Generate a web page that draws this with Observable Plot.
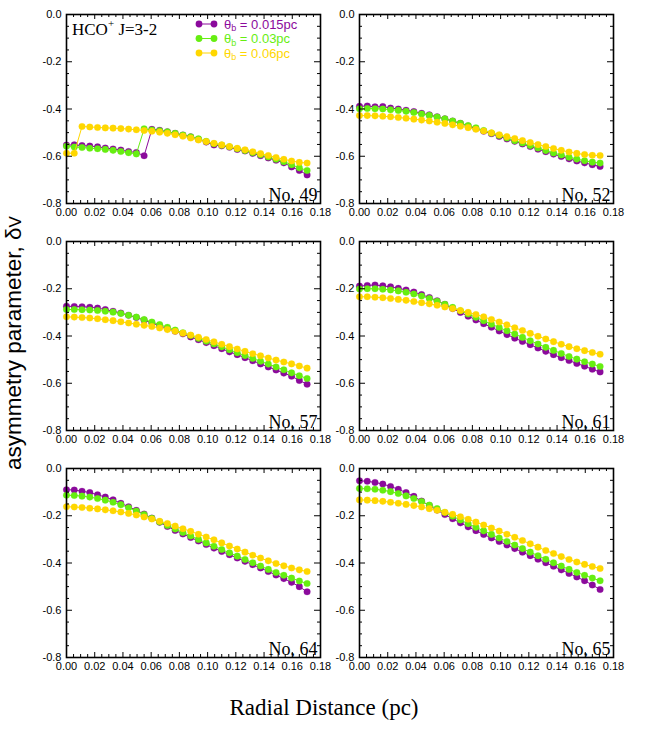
<!DOCTYPE html>
<html><head><meta charset="utf-8">
<script src="https://cdn.jsdelivr.net/npm/d3@7"></script>
<script src="https://cdn.jsdelivr.net/npm/@observablehq/plot@0.6"></script>
<style>
body{margin:0;background:#fff;}
#wrap{position:relative;width:664px;height:731px;background:#fff;overflow:hidden;}
.panel{position:absolute;}
.lbl{position:absolute;white-space:nowrap;}
</style></head><body><div id="wrap"></div>
<script>
// ---------- data ----------
const radius = [0,0.0055,0.011,0.0165,0.022,0.0275,0.033,0.0385,0.044,0.0495,0.055,0.0605,0.066,0.0715,0.077,0.0825,0.088,0.0935,0.099,0.1045,0.11,0.1155,0.121,0.1265,0.132,0.1375,0.143,0.1485,0.154,0.1595,0.165,0.1705];
const beamNames = ["0.015pc","0.03pc","0.06pc"];
const beamColors = ["#8b0a9c","#66ee11","#ffd700"];
const panelLabels = ["No. 49","No. 52","No, 57","No, 61","No, 64","No, 65"];

const no49_015 = [-0.553,-0.552,-0.555,-0.557,-0.560,-0.565,-0.569,-0.574,-0.580,-0.584,-0.598,-0.486,-0.490,-0.496,-0.503,-0.510,-0.518,-0.528,-0.540,-0.552,-0.556,-0.562,-0.571,-0.578,-0.588,-0.598,-0.607,-0.617,-0.628,-0.645,-0.660,-0.679];
const no49_03  = [-0.558,-0.561,-0.563,-0.566,-0.568,-0.571,-0.575,-0.580,-0.585,-0.590,-0.484,-0.489,-0.492,-0.497,-0.503,-0.510,-0.518,-0.526,-0.537,-0.547,-0.553,-0.560,-0.568,-0.576,-0.585,-0.594,-0.603,-0.613,-0.623,-0.636,-0.649,-0.660];
const no49_06  = [-0.587,-0.587,-0.474,-0.476,-0.478,-0.480,-0.481,-0.483,-0.485,-0.488,-0.491,-0.494,-0.498,-0.503,-0.509,-0.515,-0.523,-0.531,-0.538,-0.545,-0.552,-0.559,-0.566,-0.573,-0.581,-0.589,-0.597,-0.605,-0.613,-0.620,-0.626,-0.629];

const no52_015 = [-0.389,-0.387,-0.391,-0.390,-0.396,-0.400,-0.405,-0.411,-0.418,-0.425,-0.433,-0.442,-0.451,-0.461,-0.472,-0.483,-0.494,-0.505,-0.516,-0.527,-0.537,-0.548,-0.559,-0.570,-0.581,-0.591,-0.601,-0.611,-0.620,-0.628,-0.636,-0.643];
const no52_03  = [-0.399,-0.398,-0.399,-0.400,-0.403,-0.406,-0.410,-0.415,-0.421,-0.427,-0.434,-0.442,-0.451,-0.460,-0.470,-0.480,-0.491,-0.502,-0.512,-0.523,-0.534,-0.544,-0.555,-0.565,-0.576,-0.586,-0.595,-0.604,-0.612,-0.619,-0.625,-0.629];
const no52_06  = [-0.428,-0.428,-0.429,-0.431,-0.433,-0.436,-0.439,-0.443,-0.447,-0.451,-0.456,-0.461,-0.467,-0.473,-0.479,-0.486,-0.493,-0.501,-0.509,-0.517,-0.525,-0.534,-0.542,-0.551,-0.559,-0.567,-0.575,-0.582,-0.588,-0.593,-0.596,-0.597];

const no57_015 = [-0.274,-0.275,-0.276,-0.278,-0.282,-0.288,-0.295,-0.303,-0.312,-0.322,-0.333,-0.345,-0.357,-0.368,-0.380,-0.391,-0.404,-0.416,-0.428,-0.441,-0.454,-0.467,-0.479,-0.492,-0.505,-0.518,-0.531,-0.544,-0.557,-0.570,-0.588,-0.604];
const no57_03  = [-0.288,-0.288,-0.289,-0.290,-0.292,-0.295,-0.299,-0.305,-0.312,-0.320,-0.330,-0.341,-0.352,-0.363,-0.375,-0.386,-0.398,-0.410,-0.422,-0.434,-0.446,-0.458,-0.471,-0.483,-0.495,-0.507,-0.519,-0.531,-0.543,-0.556,-0.568,-0.580];
const no57_06  = [-0.319,-0.320,-0.322,-0.324,-0.327,-0.331,-0.335,-0.340,-0.345,-0.350,-0.355,-0.360,-0.366,-0.373,-0.380,-0.388,-0.396,-0.405,-0.415,-0.425,-0.435,-0.445,-0.455,-0.465,-0.475,-0.484,-0.493,-0.502,-0.510,-0.518,-0.527,-0.536];

const no61_015 = [-0.189,-0.186,-0.184,-0.188,-0.192,-0.198,-0.205,-0.214,-0.225,-0.237,-0.251,-0.266,-0.284,-0.300,-0.316,-0.332,-0.348,-0.363,-0.379,-0.394,-0.409,-0.423,-0.437,-0.451,-0.465,-0.479,-0.492,-0.504,-0.516,-0.528,-0.541,-0.552];
const no61_03  = [-0.201,-0.200,-0.200,-0.202,-0.205,-0.209,-0.215,-0.222,-0.231,-0.241,-0.253,-0.266,-0.279,-0.293,-0.307,-0.321,-0.335,-0.350,-0.364,-0.378,-0.392,-0.406,-0.420,-0.434,-0.448,-0.461,-0.474,-0.487,-0.498,-0.509,-0.519,-0.529];
const no61_06  = [-0.234,-0.234,-0.236,-0.238,-0.241,-0.245,-0.249,-0.254,-0.259,-0.264,-0.270,-0.277,-0.284,-0.292,-0.300,-0.309,-0.319,-0.330,-0.341,-0.353,-0.365,-0.377,-0.389,-0.401,-0.413,-0.424,-0.435,-0.445,-0.454,-0.462,-0.470,-0.477];

const no64_015 = [-0.090,-0.091,-0.096,-0.102,-0.111,-0.121,-0.133,-0.147,-0.162,-0.177,-0.193,-0.210,-0.228,-0.245,-0.262,-0.277,-0.292,-0.307,-0.322,-0.337,-0.351,-0.365,-0.379,-0.393,-0.407,-0.421,-0.436,-0.451,-0.466,-0.482,-0.500,-0.522];
const no64_03  = [-0.113,-0.114,-0.117,-0.121,-0.127,-0.134,-0.143,-0.153,-0.166,-0.180,-0.195,-0.211,-0.226,-0.241,-0.256,-0.271,-0.286,-0.300,-0.315,-0.329,-0.343,-0.357,-0.371,-0.385,-0.399,-0.413,-0.427,-0.440,-0.452,-0.464,-0.476,-0.487];
const no64_06  = [-0.162,-0.163,-0.165,-0.168,-0.171,-0.175,-0.179,-0.184,-0.190,-0.197,-0.205,-0.214,-0.223,-0.233,-0.244,-0.255,-0.266,-0.278,-0.290,-0.302,-0.315,-0.328,-0.341,-0.354,-0.367,-0.379,-0.391,-0.402,-0.412,-0.421,-0.429,-0.436];

const no65_015 = [-0.052,-0.054,-0.059,-0.066,-0.076,-0.088,-0.102,-0.118,-0.138,-0.157,-0.176,-0.195,-0.213,-0.230,-0.247,-0.263,-0.279,-0.294,-0.309,-0.324,-0.339,-0.354,-0.369,-0.384,-0.399,-0.414,-0.429,-0.444,-0.459,-0.475,-0.493,-0.512];
const no65_03  = [-0.085,-0.086,-0.088,-0.092,-0.098,-0.106,-0.116,-0.127,-0.140,-0.155,-0.170,-0.186,-0.202,-0.218,-0.234,-0.249,-0.264,-0.279,-0.294,-0.309,-0.324,-0.339,-0.354,-0.369,-0.384,-0.399,-0.413,-0.427,-0.440,-0.452,-0.464,-0.475];
const no65_06  = [-0.133,-0.134,-0.136,-0.139,-0.143,-0.147,-0.152,-0.157,-0.163,-0.170,-0.177,-0.185,-0.194,-0.204,-0.215,-0.227,-0.239,-0.252,-0.265,-0.278,-0.291,-0.305,-0.319,-0.333,-0.347,-0.360,-0.373,-0.385,-0.396,-0.406,-0.415,-0.423];

const xTicks = [0,0.02,0.04,0.06,0.08,0.10,0.12,0.14,0.16,0.18];
const xMinorTicks = [0.005,0.01,0.015,0.025,0.03,0.035,0.045,0.05,0.055,0.065,0.07,0.075,0.085,0.09,0.095,0.105,0.11,0.115,0.125,0.13,0.135,0.145,0.15,0.155,0.165,0.17,0.175];
const yTicks = [0,-0.2,-0.4,-0.6,-0.8];
const yMinorTicks = [-0.05,-0.1,-0.15,-0.25,-0.3,-0.35,-0.45,-0.5,-0.55,-0.65,-0.7,-0.75];

const panelSeries = [
  [no49_015,no49_03,no49_06],
  [no52_015,no52_03,no52_06],
  [no57_015,no57_03,no57_06],
  [no61_015,no61_03,no61_06],
  [no64_015,no64_03,no64_06],
  [no65_015,no65_03,no65_06]
];

// ---------- layout ----------
const FW = 254, FH = 189;
const mL = 40, mR = 15, mT = 10, mB = 25;
const frameLeft = [66, 359];
const frameTop = [14, 241, 468];
const wrap = document.getElementById("wrap");

panelSeries.forEach((series, p) => {
  const col = p % 2, row = Math.floor(p / 2);
  const rows = [];
  series.forEach((vals, s) => vals.forEach((v, k) => rows.push({x: radius[k], y: v, s})));
  const marks = [];
  [0,1,2].forEach(s => {
    const d = rows.filter(r => r.s === s);
    marks.push(Plot.line(d, {x: "x", y: "y", stroke: beamColors[s], strokeWidth: 1}));
    marks.push(Plot.dot(d, {x: "x", y: "y", r: 3.3, fill: beamColors[s], stroke: beamColors[s], strokeWidth: 0.4, strokeOpacity: 0.5}));
  });
  marks.push(
    Plot.ruleX(xTicks, {x: d => d, insetTop: FH - 5, stroke: "black", strokeWidth: 1}),
    Plot.ruleX(xTicks, {x: d => d, insetBottom: FH - 5, stroke: "black", strokeWidth: 1}),
    Plot.ruleX(xMinorTicks, {x: d => d, insetTop: FH - 3, stroke: "black", strokeWidth: 1}),
    Plot.ruleX(xMinorTicks, {x: d => d, insetBottom: FH - 3, stroke: "black", strokeWidth: 1}),
    Plot.ruleY(yTicks, {y: d => d, insetRight: FW - 6, stroke: "black", strokeWidth: 1}),
    Plot.ruleY(yTicks, {y: d => d, insetLeft: FW - 6, stroke: "black", strokeWidth: 1}),
    Plot.ruleY(yMinorTicks, {y: d => d, insetRight: FW - 3, stroke: "black", strokeWidth: 1}),
    Plot.ruleY(yMinorTicks, {y: d => d, insetLeft: FW - 3, stroke: "black", strokeWidth: 1}),
    Plot.axisX({ticks: xTicks, tickFormat: d => d.toFixed(2), tickSize: 0, tickPadding: 5, label: null, fontSize: 11}),
    Plot.axisY({ticks: yTicks, tickFormat: d => d.toFixed(1), tickSize: 0, tickPadding: 5, label: null, fontSize: 11}),
    Plot.frame({stroke: "black", strokeWidth: 1.6}),
    Plot.text([panelLabels[p]], {text: d => d, frameAnchor: "bottom-right", dx: -3, dy: -3, fontFamily: "'Liberation Serif', 'Times New Roman', serif", fontSize: 18, fill: "black"})
  );
  const chart = Plot.plot({
    width: mL + FW + mR, height: mT + FH + mB,
    marginLeft: mL, marginRight: mR, marginTop: mT, marginBottom: mB,
    x: {domain: [0, 0.18], label: null},
    y: {domain: [-0.8, 0], label: null},
    style: {fontFamily: "'Liberation Sans', Arial, sans-serif", fontSize: "11px", background: "transparent", color: "black", overflow: "visible"},
    marks
  });
  const holder = document.createElement("div");
  holder.className = "panel";
  holder.style.left = (frameLeft[col] - mL) + "px";
  holder.style.top = (frameTop[row] - mT) + "px";
  holder.appendChild(chart);
  wrap.appendChild(holder);
});

// ---------- annotations ----------
function addLabel(html, css) {
  const d = document.createElement("div");
  d.className = "lbl";
  d.innerHTML = html;
  Object.assign(d.style, css);
  wrap.appendChild(d);
  return d;
}
addLabel('HCO<sup style="font-size:11px;vertical-align:8px;line-height:0">+</sup> J=3-2',
  {left: "72px", top: "20px", fontFamily: "'Liberation Serif', 'Times New Roman', serif", fontSize: "17px", lineHeight: "19px", color: "black"});

// legend drawn as one small SVG (swatches + text rows)
const ns = "http://www.w3.org/2000/svg";
const leg = document.createElementNS(ns, "svg");
leg.setAttribute("width", 130); leg.setAttribute("height", 50);
leg.style.position = "absolute"; leg.style.left = "192px"; leg.style.top = "16px";
leg.style.fontFamily = "'Liberation Sans', Arial, sans-serif";
beamNames.forEach((name, s) => {
  const cy = 8 + s * 14.5;
  const c = beamColors[s];
  leg.insertAdjacentHTML("beforeend",
    `<line x1="7" y1="${cy}" x2="22" y2="${cy}" stroke="${c}" stroke-width="1"/>` +
    `<circle cx="7" cy="${cy}" r="3.4" fill="${c}"/>` +
    `<circle cx="22" cy="${cy}" r="3.4" fill="${c}"/>` +
    `<text x="32" y="${cy + 4.5}" fill="${c}" font-size="13">θ<tspan font-size="9" dy="2.5">b</tspan><tspan dy="-2.5"> = ${name}</tspan></text>`);
});
wrap.appendChild(leg);

addLabel('asymmetry parameter, δ<span style="font-size:17px">V</span>',
  {left: "14px", top: "343px", transform: "translate(-50%,-50%) rotate(-90deg)", fontFamily: "'Liberation Sans', Arial, sans-serif", fontSize: "22.5px", color: "black"});

addLabel('Radial Distance (pc)',
  {left: "324px", top: "708px", transform: "translate(-50%,-50%)", fontFamily: "'Liberation Serif', 'Times New Roman', serif", fontSize: "23px", color: "black"});
</script></body></html>
